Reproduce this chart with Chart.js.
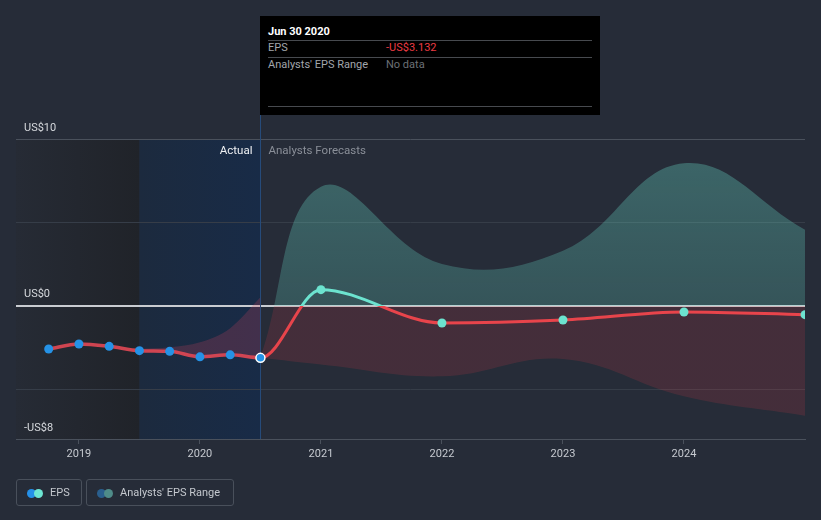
<!DOCTYPE html>
<html>
<head>
<meta charset="utf-8">
<script src="https://cdn.jsdelivr.net/npm/chart.js@4"></script>
<style>
html,body{margin:0;padding:0;background:#262c38;width:821px;height:520px;overflow:hidden;font-family:Roboto,"Noto Sans",sans-serif}
#wrap{position:relative;width:821px;height:520px}
#c{position:absolute;left:0;top:0}
#tip{position:absolute;left:260px;top:16px;width:340px;height:99px;background:#000;font-size:11px}
#tip .l{position:absolute;left:8px;line-height:14px;white-space:nowrap}
#tip .v{position:absolute;left:126px;line-height:14px;white-space:nowrap}
#tip .sep{position:absolute;left:8px;width:324px;height:1px;background:#474a4f}
.title{color:#fff;font-weight:bold}
.k{color:#a2a6ac}
.red{color:#ec3b43}
.nd{color:#6c7076}
.lg{position:absolute;top:479px;height:27px;box-sizing:border-box;border:1px solid #49505b;border-radius:3px;font-size:11px;color:#c4c8ce}
.lg .d{position:absolute;top:8.5px;width:9px;height:9px;border-radius:50%}
.lg .t{position:absolute;top:0;line-height:25px;white-space:nowrap}
</style>
</head>
<body>
<div id="wrap">
<canvas id="c" width="821" height="520"></canvas>
<div id="tip">
  <div class="l title" style="top:9px">Jun 30 2020</div>
  <div class="sep" style="top:24px"></div>
  <div class="l k" style="top:25px">EPS</div>
  <div class="v red" style="top:25px">-US$3.132</div>
  <div class="sep" style="top:41px"></div>
  <div class="l k" style="top:42px">Analysts' EPS Range</div>
  <div class="v nd" style="top:42px">No data</div>
  <div class="sep" style="top:90px"></div>
</div>
<div class="lg" style="left:16px;width:66px">
  <div class="d" style="left:10px;background:#2590e8"></div>
  <div class="d" style="left:16.5px;background:#6de6d3"></div>
  <div class="t" style="left:33px">EPS</div>
</div>
<div class="lg" style="left:86px;width:148px">
  <div class="d" style="left:10px;background:#2a5f8e"></div>
  <div class="d" style="left:16.5px;background:#4f8c89"></div>
  <div class="t" style="left:33px">Analysts' EPS Range</div>
</div>
</div>
<script>
// ---- data ----
const actualDates = [2018.75, 2019.0, 2019.25, 2019.5, 2019.75, 2020.0, 2020.25, 2020.5];
const actualEps   = [-2.60, -2.30, -2.44, -2.70, -2.74, -3.07, -2.95, -3.132];
const forecastDates = [2021, 2022, 2023, 2024, 2025];
const forecastEps   = [0.96, -1.04, -0.86, -0.38, -0.54];
const rangeDates = [2020.5, 2021, 2022, 2023, 2024, 2025];
const rangeLow   = [-3.132, -3.53, -4.24, -3.20, -5.44, -6.60];
const rangeHigh  = [-3.132, 7.13, 2.50, 3.30, 8.55, 4.56];
const histDates = [2019.5, 2019.75, 2020.0, 2020.25, 2020.5];
const histHigh  = [-2.60, -2.50, -2.20, -1.35, 0.50];
const histLow   = [-2.70, -2.74, -3.07, -2.95, -3.132];
const xTickValues = [2019, 2020, 2021, 2022, 2023, 2024];
const yTickValues = [-8, -5, 0, 5, 10];
const yTickLabels = ['-US$8', '', 'US$0', '', 'US$10'];
const xMin = 2018.48, xMax = 2025.0, yMin = -8, yMax = 10;
const pastWindowStart = 2019.5;   // start of highlighted last-year window
const dividerDate = 2020.5;       // Actual / Forecast divider
const lastActualIndex = actualDates.length - 1;

const pts = (xs, ys) => xs.map((x, i) => ({x, y: ys[i]}));
const epsPoints = pts(actualDates.concat(forecastDates), actualEps.concat(forecastEps));

function signGradient(chart, aboveTop, aboveZero, below, belowBottom) {
  const {ctx, chartArea, scales} = chart;
  if (!chartArea) return aboveZero;
  const z = scales.y.getPixelForValue(0);
  const f = Math.min(1, Math.max(0, (z - chartArea.top) / (chartArea.bottom - chartArea.top)));
  const g = ctx.createLinearGradient(0, chartArea.top, 0, chartArea.bottom);
  g.addColorStop(0, aboveTop);
  g.addColorStop(f, aboveZero);
  g.addColorStop(f, below);
  g.addColorStop(1, belowBottom || below);
  return g;
}

const decor = {
  id: 'decor',
  beforeDraw(chart) {
    const {ctx, chartArea: a, scales: {x}} = chart;
    const x1 = x.getPixelForValue(pastWindowStart), x2 = x.getPixelForValue(dividerDate);
    ctx.save();
    let g = ctx.createLinearGradient(a.left, 0, x1, 0);
    g.addColorStop(0, '#262b35'); g.addColorStop(1, '#202329');
    ctx.fillStyle = g; ctx.fillRect(a.left, a.top, x1 - a.left, a.bottom - a.top);
    g = ctx.createLinearGradient(x1, 0, x2, 0);
    g.addColorStop(0, '#1c2a3e'); g.addColorStop(1, '#182b47');
    ctx.fillStyle = g; ctx.fillRect(x1, a.top, x2 - x1, a.bottom - a.top);
    ctx.restore();
  },
  beforeDatasetsDraw(chart) {
    const {ctx, chartArea: a, scales: {x}} = chart;
    const xd = Math.round(x.getPixelForValue(dividerDate)) + 0.5;
    ctx.save();
    ctx.strokeStyle = '#264b7a'; ctx.lineWidth = 1;
    ctx.beginPath(); ctx.moveTo(xd, 115); ctx.lineTo(xd, a.bottom); ctx.stroke();
    ctx.font = '11.5px Roboto';
    ctx.textBaseline = 'middle';
    ctx.textAlign = 'right'; ctx.fillStyle = '#eef0f3';
    ctx.fillText('Actual', xd - 8, a.top + 12);
    ctx.textAlign = 'left'; ctx.fillStyle = '#8a8f98';
    ctx.fillText('Analysts Forecasts', xd + 8, a.top + 12);
    ctx.restore();
  }
};

new Chart(document.getElementById('c'), {
  type: 'line',
  data: {
    datasets: [
      {
        label: 'EPS',
        data: epsPoints,
        cubicInterpolationMode: 'monotone',
        borderWidth: 3,
        borderColor: c => signGradient(c.chart, '#6ce3cf', '#6ce3cf', '#e8444b'),
        segment: {
          borderColor: s => s.p1DataIndex <= lastActualIndex ? 'rgba(226,72,84,0.9)' : undefined,
          borderWidth: s => s.p1DataIndex <= lastActualIndex ? 3.5 : undefined
        },
        pointRadius: 4.5,
        pointHoverRadius: 4.5,
        pointBackgroundColor: c => c.dataIndex <= lastActualIndex ? '#2592e6' : '#6ce3cf',
        pointBorderColor: c => c.dataIndex === lastActualIndex ? '#ffffff' : 'rgba(0,0,0,0)',
        pointBorderWidth: c => c.dataIndex === lastActualIndex ? 1.5 : 0,
        fill: false,
        clip: 0
      },
      {
        label: 'Range high',
        data: pts(rangeDates, rangeHigh),
        tension: 0.4,
        borderWidth: 0,
        borderColor: 'rgba(0,0,0,0)',
        pointRadius: 0,
        fill: {target: 2},
        backgroundColor: c => signGradient(c.chart, 'rgba(110,230,210,0.32)', 'rgba(110,230,210,0.22)', 'rgba(230,60,70,0.16)'),
        clip: 0
      },
      {
        label: 'Range low',
        data: pts(rangeDates, rangeLow),
        tension: 0.4,
        borderWidth: 0,
        borderColor: 'rgba(0,0,0,0)',
        pointRadius: 0,
        fill: false,
        clip: 0
      },
      {
        label: 'Hist high',
        data: pts(histDates, histHigh),
        cubicInterpolationMode: 'monotone',
        borderWidth: 0,
        borderColor: 'rgba(0,0,0,0)',
        pointRadius: 0,
        fill: {target: 4},
        backgroundColor: 'rgba(220,70,95,0.22)',
        clip: 0
      },
      {
        label: 'Hist low',
        data: pts(histDates, histLow),
        cubicInterpolationMode: 'monotone',
        borderWidth: 0,
        borderColor: 'rgba(0,0,0,0)',
        pointRadius: 0,
        fill: false,
        clip: 0
      }
    ]
  },
  options: {
    responsive: false,
    animation: false,
    devicePixelRatio: 1,
    layout: {padding: {left: 16, right: 16, top: 139, bottom: 51}},
    plugins: {legend: {display: false}, tooltip: {enabled: false}},
    events: [],
    scales: {
      x: {
        type: 'linear',
        min: xMin, max: xMax,
        afterBuildTicks: s => { s.ticks = xTickValues.map(v => ({value: v})); },
        afterFit: s => { s.height = 30; },
        ticks: {
          color: '#c6cad0',
          font: {family: 'Roboto', size: 11},
          padding: 4,
          maxRotation: 0,
          autoSkip: false,
          callback: v => String(v)
        },
        grid: {display: true, drawOnChartArea: false, drawTicks: true, tickLength: 5, color: '#4a515c'},
        border: {display: true, color: '#4a515c', width: 1}
      },
      y: {
        type: 'linear',
        min: yMin, max: yMax,
        afterBuildTicks: s => { s.ticks = yTickValues.map(v => ({value: v})); },
        afterFit: s => { s.width = 0; },
        ticks: {
          mirror: true,
          padding: 8,
          labelOffset: -11,
          color: '#d6d9dd',
          font: {family: 'Roboto', size: 11},
          callback: v => yTickLabels[yTickValues.indexOf(v)]
        },
        grid: {
          drawTicks: false,
          color: c => c.tick.value === 0 ? '#c9ccd1' : (c.tick.value === yMax || c.tick.value === yMin ? '#4a515c' : '#363d48'),
          lineWidth: c => c.tick.value === 0 ? 2 : 1
        },
        border: {display: false}
      }
    }
  },
  plugins: [decor]
});
</script>
</body>
</html>
